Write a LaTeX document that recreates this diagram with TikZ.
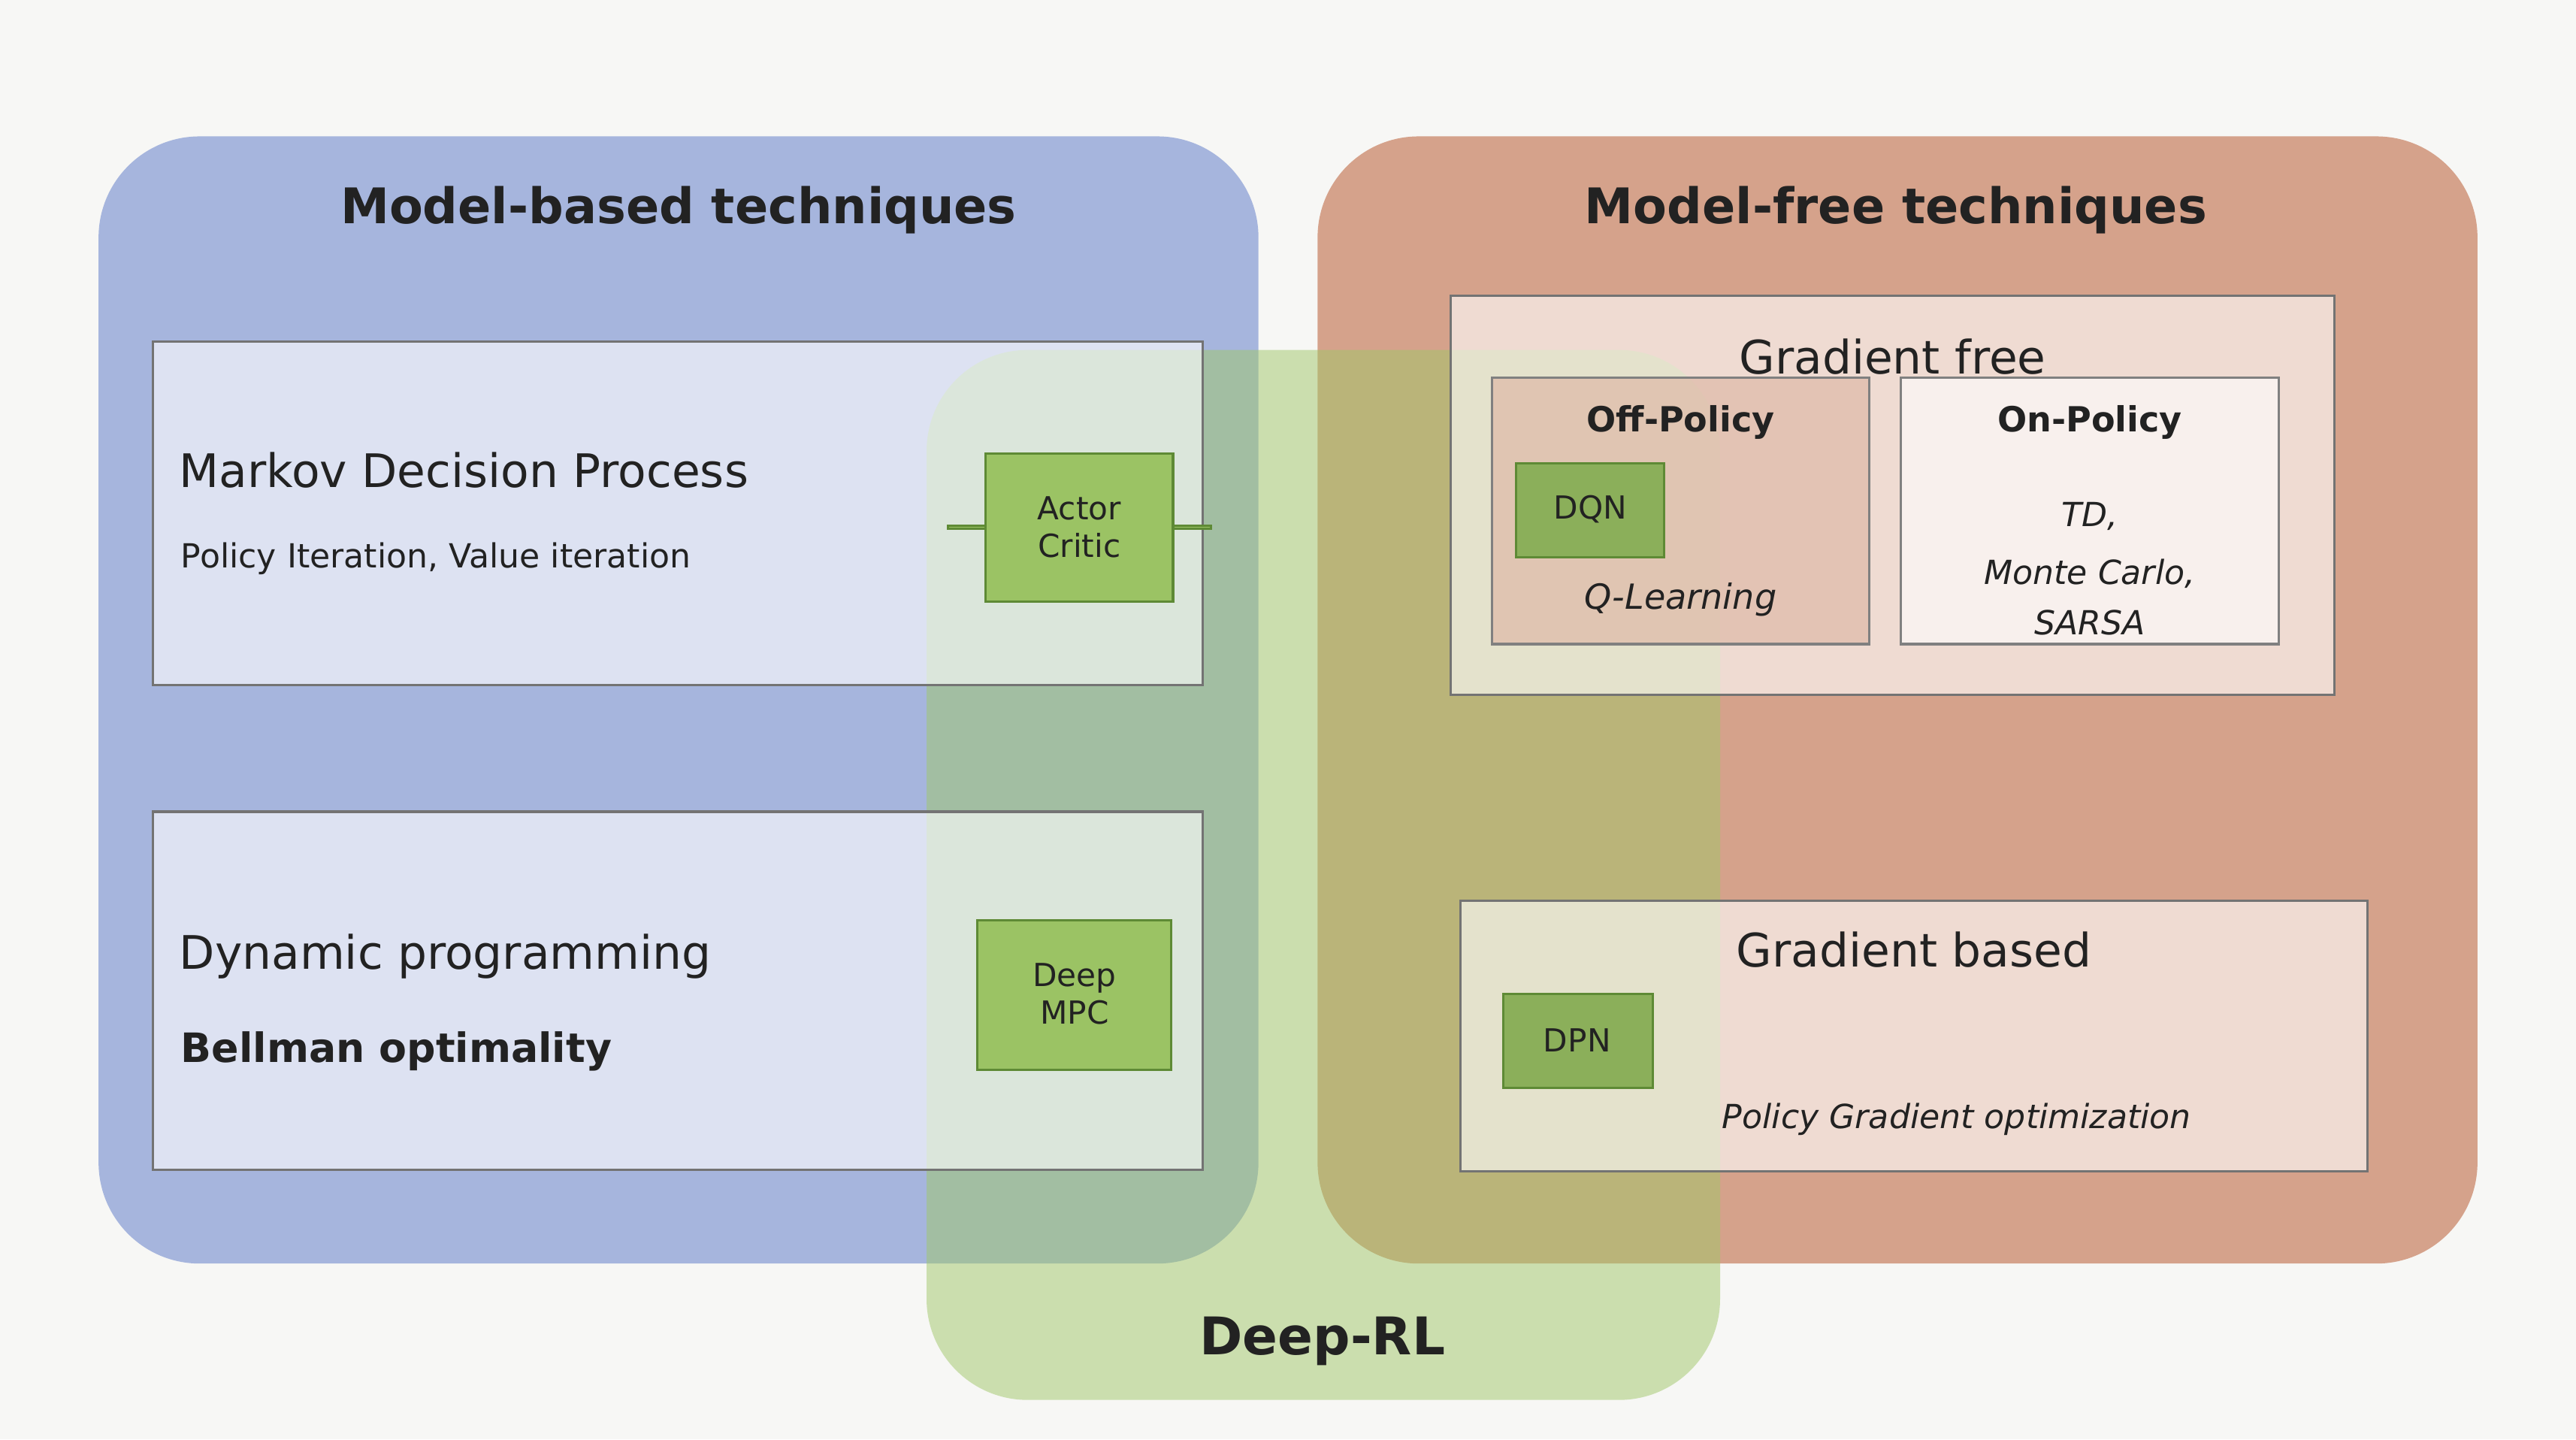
\documentclass[tikz,border=0pt]{standalone}
\usepackage{fontspec}
\setmainfont{DejaVu Sans}
\definecolor{bgcol}{RGB}{247,247,245}
\definecolor{mbcol}{RGB}{166,181,221}
\definecolor{mfcol}{RGB}{213,162,139}
\definecolor{rlcol}{RGB}{160,199,105}
\definecolor{algofill}{RGB}{155,195,100}
\definecolor{algoline}{RGB}{94,138,53}
\definecolor{txt}{RGB}{34,34,34}
\tikzset{
  panel/.style={rounded corners=35pt, draw=none},
  subbox/.style={draw=black!55, line width=0.8pt, fill=white, fill opacity=0.62, text opacity=1},
  algo/.style={draw=algoline, line width=0.8pt, fill=algofill, text=txt, align=center, font=\fontsize{11}{13}\selectfont, inner sep=0pt}
}
\begin{document}
\begin{tikzpicture}[x=0.02cm, y=-0.02cm, text=txt]
    % Background
    \fill[bgcol] (0,0) rectangle (1568,876);
    \useasboundingbox (0,0) rectangle (1568,876);

    % Big panels
    \fill[panel, mbcol] (60,83) rectangle (766,769);
    \fill[panel, mfcol] (802,83) rectangle (1508,769);
    \fill[panel, rlcol, opacity=0.5] (564,213) rectangle (1047,852);

    % Panel titles
    \node[font=\bfseries\fontsize{17}{20}\selectfont] (mbtitle) at (413,128) {Model-based techniques};
    \node[font=\bfseries\fontsize{17}{20}\selectfont] (mftitle) at (1154,128) {Model-free techniques};
    \node[font=\bfseries\fontsize{18}{22}\selectfont] (rltitle) at (805,816) {Deep-RL};

    % Model-based boxes
    \draw[subbox] (93,208) rectangle (732,417);
    \node[anchor=west, font=\fontsize{16}{19}\selectfont] (mdp) at (103,286) {Markov Decision Process};
    \node[anchor=west, font=\fontsize{11.5}{14}\selectfont] (mdpsub) at (104,340) {Policy Iteration, Value iteration};
    \node[algo, minimum width=114\pgflinewidth] (ac) at (657,321) {};
    \draw[algo] (600,276) rectangle (714,366);
    \node[align=center, font=\fontsize{11}{13}\selectfont] (actor) at (657,321) {Actor\\Critic};

    \draw[subbox] (93,494) rectangle (732,712);
    \node[anchor=west, font=\fontsize{16}{19}\selectfont] (dp) at (103,582) {Dynamic programming};
    \node[anchor=west, font=\bfseries\fontsize{14}{17}\selectfont] (bell) at (104,640) {Bellman optimality};
    \draw[algo] (595,560) rectangle (713,651);
    \node[align=center, font=\fontsize{11}{13}\selectfont] (mpc) at (654,605) {Deep\\MPC};

    % Model-free boxes
    \draw[subbox] (883,180) rectangle (1421,423);
    \node[font=\fontsize{16}{19}\selectfont] (gfree) at (1152,217) {Gradient free};
    \draw[draw=black!50, line width=0.8pt, fill=mfcol!75!white, fill opacity=0.7] (908,230) rectangle (1138,392);
    \node[font=\bfseries\fontsize{12}{14}\selectfont] (offp) at (1023,257) {Off-Policy};
    \draw[algo, fill=algofill!90!black] (923,282) rectangle (1013,339);
    \node[font=\fontsize{11}{13}\selectfont] (dqn) at (968,310) {DQN};
    \node[font=\itshape\fontsize{12}{14}\selectfont] (ql) at (1023,365) {Q-Learning};

    \draw[draw=black!50, line width=0.8pt, fill=white, fill opacity=0.6] (1157,230) rectangle (1387,392);
    \node[font=\bfseries\fontsize{12}{14}\selectfont] (onp) at (1272,257) {On-Policy};
    \node[font=\itshape\fontsize{11.5}{14}\selectfont] (td) at (1272,314) {TD,};
    \node[font=\itshape\fontsize{11.5}{14}\selectfont] (mc) at (1272,349) {Monte Carlo,};
    \node[font=\itshape\fontsize{11.5}{14}\selectfont] (sarsa) at (1272,379) {SARSA};

    \draw[subbox] (889,548) rectangle (1441,713);
    \node[font=\fontsize{16}{19}\selectfont] (gbased) at (1165,578) {Gradient based};
    \draw[algo, fill=algofill!90!black] (915,605) rectangle (1006,662);
    \node[font=\fontsize{11}{13}\selectfont] (dpn) at (960,633) {DPN};
    \node[font=\itshape\fontsize{11.5}{14}\selectfont] (pg) at (1191,681) {Policy Gradient optimization};
\end{tikzpicture}
\end{document}
